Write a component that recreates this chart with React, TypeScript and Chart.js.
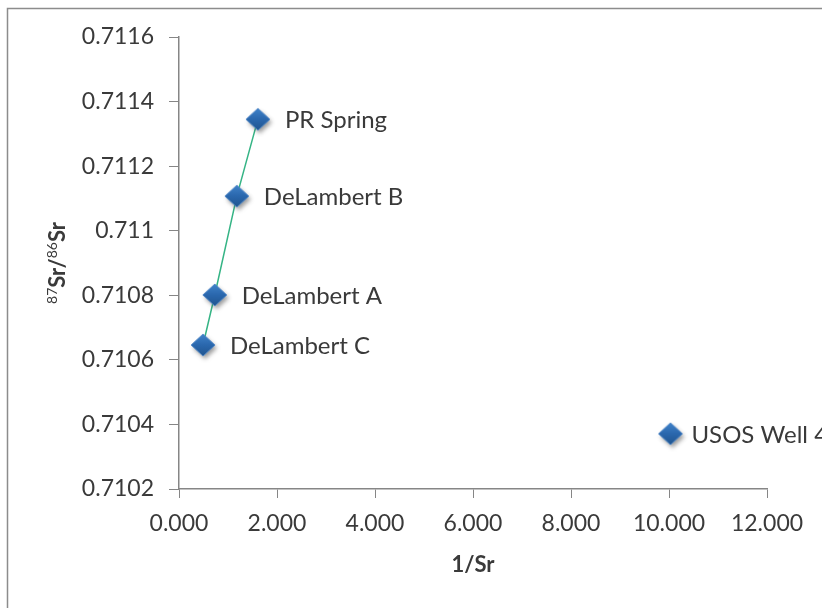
import { useEffect, useRef } from "react";
import { Chart, registerables } from "chart.js";

Chart.register(...registerables);

// ---- data ----
const lineNames = ["DeLambert C", "DeLambert A", "DeLambert B", "PR Spring"];
const lineInvSr = [0.49, 0.73, 1.18, 1.61];
const lineRatio = [0.710646, 0.710801, 0.711107, 0.711345];

const wellNames = ["USOS Well 4"];
const wellInvSr = [10.03];
const wellRatio = [0.710371];

const xMin = 0;
const xMax = 12;
const xStep = 2;
const yMin = 0.7102;
const yMax = 0.7116;
const yStep = 0.0002;

const xTitle = "1/Sr";
const yTitleParts = [
  { text: "87", sup: true },
  { text: "Sr/", sup: false },
  { text: "86", sup: true },
  { text: "Sr", sup: false },
];

const FONT = "Lato, 'Open Sans', sans-serif";
const TEXT = "#3a3a3a";
const AXIS = "#868686";

function makeDiamond(): HTMLCanvasElement {
  const rx = 12;
  const ry = 11;
  const pad = 7;
  const w = 2 * rx + 2 * pad;
  const h = 2 * ry + 2 * pad;
  const c = document.createElement("canvas");
  c.width = w;
  c.height = h;
  const ctx = c.getContext("2d")!;
  const cx = w / 2;
  const cy = h / 2;
  const path = () => {
    ctx.beginPath();
    ctx.moveTo(cx, cy - ry);
    ctx.lineTo(cx + rx, cy);
    ctx.lineTo(cx, cy + ry);
    ctx.lineTo(cx - rx, cy);
    ctx.closePath();
  };
  ctx.save();
  ctx.shadowColor = "rgba(60,60,60,0.5)";
  ctx.shadowBlur = 4;
  ctx.shadowOffsetX = 2;
  ctx.shadowOffsetY = 3;
  const g = ctx.createLinearGradient(0, cy - ry, 0, cy + ry);
  g.addColorStop(0, "#3f82c9");
  g.addColorStop(0.5, "#2a67ad");
  g.addColorStop(1, "#20558f");
  ctx.fillStyle = g;
  path();
  ctx.fill();
  ctx.restore();
  ctx.strokeStyle = "rgba(80,135,200,0.9)";
  ctx.lineWidth = 1;
  path();
  ctx.stroke();
  return c;
}

const decorPlugin = {
  id: "decor",
  beforeDraw(chart: any) {
    const ctx = chart.ctx;
    ctx.save();
    ctx.fillStyle = "#ffffff";
    ctx.fillRect(0, 0, chart.width, chart.height);
    ctx.strokeStyle = "#8c8c8c";
    ctx.lineWidth = 1.5;
    ctx.strokeRect(7.5, 8.5, chart.width + 50, chart.height + 50);
    ctx.restore();
  },
  afterDatasetsDraw(chart: any) {
    const ctx = chart.ctx;
    ctx.save();
    ctx.font = `24px ${FONT}`;
    ctx.fillStyle = TEXT;
    ctx.textBaseline = "middle";
    ctx.textAlign = "left";
    chart.data.datasets.forEach((ds: any, i: number) => {
      const meta = chart.getDatasetMeta(i);
      meta.data.forEach((pt: any, j: number) => {
        const name = ds.pointNames ? ds.pointNames[j] : "";
        if (name) ctx.fillText(name, pt.x + (ds.labelGap ?? 26), pt.y + 1);
      });
    });
    ctx.restore();
  },
  afterDraw(chart: any) {
    const ctx = chart.ctx;
    const area = chart.chartArea;
    ctx.save();
    // x title
    ctx.font = `bold 22px ${FONT}`;
    ctx.fillStyle = TEXT;
    ctx.textAlign = "center";
    ctx.textBaseline = "middle";
    ctx.fillText(xTitle, (area.left + area.right) / 2, area.bottom + 76);
    // y title
    const big = `bold 22px ${FONT}`;
    const small = `14px ${FONT}`;
    let total = 0;
    const widths = yTitleParts.map((p) => {
      ctx.font = p.sup ? small : big;
      const w = ctx.measureText(p.text).width;
      total += w;
      return w;
    });
    ctx.translate(57, (area.top + area.bottom) / 2);
    ctx.rotate(-Math.PI / 2);
    ctx.textAlign = "left";
    ctx.textBaseline = "alphabetic";
    let x = -total / 2;
    yTitleParts.forEach((p, i) => {
      ctx.font = p.sup ? small : big;
      ctx.fillText(p.text, x, p.sup ? 0 : 8);
      x += widths[i];
    });
    ctx.restore();
  },
};

export default function App() {
  const ref = useRef<HTMLCanvasElement | null>(null);

  useEffect(() => {
    if (!ref.current) return;
    const diamond = makeDiamond();
    const chart = new Chart(ref.current, {
      type: "scatter",
      data: {
        datasets: [
          {
            label: "DeLambert",
            data: lineInvSr.map((x, i) => ({ x, y: lineRatio[i] })),
            pointNames: lineNames,
            labelGap: 27,
            showLine: true,
            borderColor: "#35b485",
            borderWidth: 1.5,
            pointStyle: diamond,
            pointRadius: 12,
            backgroundColor: "#2f6fb8",
          } as any,
          {
            label: "USOS",
            data: wellInvSr.map((x, i) => ({ x, y: wellRatio[i] })),
            pointNames: wellNames,
            labelGap: 21,
            showLine: false,
            pointStyle: diamond,
            pointRadius: 12,
            backgroundColor: "#2f6fb8",
          } as any,
        ],
      },
      options: {
        animation: false,
        responsive: false,
        events: [],
        layout: { padding: { left: 0, top: 37, right: 55, bottom: 0 } },
        plugins: {
          legend: { display: false },
          tooltip: { enabled: false },
        },
        scales: {
          x: {
            type: "linear",
            position: "bottom",
            min: xMin,
            max: xMax,
            afterFit: (s: any) => {
              s.height = 119;
            },
            ticks: {
              stepSize: xStep,
              color: TEXT,
              font: { family: FONT, size: 23 },
              padding: 12,
              maxRotation: 0,
              callback: (v: any) => Number(v).toFixed(3),
            },
            grid: {
              drawOnChartArea: false,
              drawTicks: true,
              tickLength: 9,
              color: AXIS,
            },
            border: { color: AXIS, width: 1.5 },
          },
          y: {
            type: "linear",
            min: yMin,
            max: yMax,
            afterFit: (s: any) => {
              s.width = 179;
            },
            ticks: {
              stepSize: yStep,
              color: TEXT,
              font: { family: FONT, size: 23 },
              padding: 15,
              callback: (v: any) => String(parseFloat(Number(v).toFixed(4))),
            },
            grid: {
              drawOnChartArea: false,
              drawTicks: true,
              tickLength: 10,
              color: AXIS,
            },
            border: { color: AXIS, width: 1.5 },
          },
        },
      },
      plugins: [decorPlugin],
    });
    return () => chart.destroy();
  }, []);

  return (
    <canvas
      ref={ref}
      width={822}
      height={608}
      style={{ position: "fixed", left: 0, top: 0, width: 822, height: 608, display: "block" }}
    />
  );
}
